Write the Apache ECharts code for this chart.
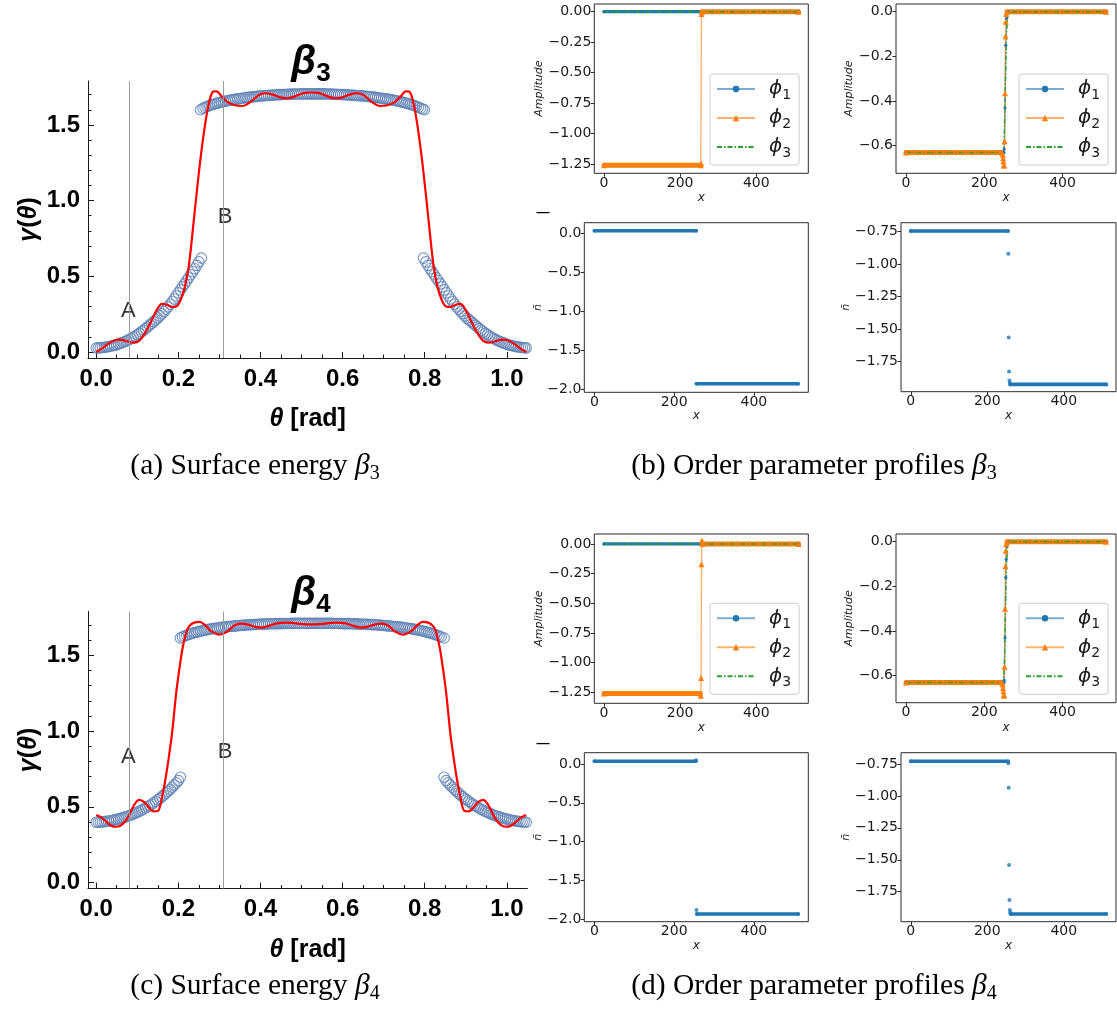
<!DOCTYPE html>
<html><head><meta charset="utf-8">
<script src="https://cdn.jsdelivr.net/npm/echarts@6/dist/echarts.min.js"></script>
<style>html,body{margin:0;padding:0;background:#fff}#c{width:1117px;height:1014px}</style>
</head><body><div id="c"></div>
<script>
// ---------------- tick labels ----------------
const thetaMajor = [0, 0.2, 0.4, 0.6, 0.8, 1.0];
const thetaMinor = [0.05,0.1,0.15,0.25,0.3,0.35,0.45,0.5,0.55,0.65,0.7,0.75,0.85,0.9,0.95];
const gammaMajor = [0, 0.5, 1.0, 1.5];
const gammaMinor = [0.1,0.2,0.3,0.4,0.6,0.7,0.8,0.9,1.1,1.2,1.3,1.4,1.6,1.7];
const xTicksSmall = [0, 200, 400];
const ampTicks2 = [0, -0.25, -0.5, -0.75, -1.0, -1.25];
const ampTicks1 = [0, -0.2, -0.4, -0.6];
const nbarTicksL = [0, -0.5, -1.0, -1.5, -2.0];
const nbarTicksR = [-0.75, -1.0, -1.25, -1.5, -1.75];
const refLines = [0.0785, 0.314];

// ---------------- beta3 : surface energy ----------------
const b3_circLeft = [[0,0.026],[0.005,0.027],[0.01,0.028],[0.015,0.029],[0.02,0.031],[0.025,0.033],[0.03,0.035],[0.035,0.038],[0.04,0.041],[0.045,0.044],[0.05,0.048],[0.055,0.053],[0.06,0.058],[0.065,0.063],[0.07,0.069],[0.075,0.075],[0.08,0.082],[0.085,0.089],[0.09,0.097],[0.095,0.105],[0.10,0.114],[0.105,0.123],[0.11,0.133],[0.115,0.143],[0.12,0.154],[0.125,0.165],[0.13,0.177],[0.135,0.188],[0.14,0.200],[0.145,0.212],[0.15,0.224],[0.155,0.238],[0.16,0.252],[0.165,0.267],[0.17,0.282],[0.175,0.298],[0.18,0.315],[0.185,0.332],[0.19,0.350],[0.195,0.370],[0.20,0.390],[0.205,0.410],[0.21,0.430],[0.215,0.450],[0.22,0.470],[0.225,0.490],[0.23,0.510],[0.235,0.530],[0.24,0.550],[0.245,0.572],[0.25,0.595],[0.256,0.620]];
const b3_circTop = [[0.254,1.600],[0.26,1.610],[0.265,1.616],[0.27,1.622],[0.275,1.627],[0.28,1.632],[0.285,1.636],[0.29,1.640],[0.295,1.644],[0.30,1.647],[0.305,1.651],[0.31,1.654],[0.315,1.657],[0.32,1.660],[0.325,1.663],[0.33,1.665],[0.335,1.668],[0.34,1.670],[0.345,1.672],[0.35,1.674],[0.355,1.676],[0.36,1.678],[0.365,1.680],[0.37,1.682],[0.375,1.684],[0.38,1.685],[0.385,1.687],[0.39,1.688],[0.395,1.690],[0.40,1.691],[0.405,1.692],[0.41,1.693],[0.415,1.694],[0.42,1.695],[0.425,1.696],[0.43,1.697],[0.435,1.698],[0.44,1.699],[0.445,1.700],[0.45,1.700],[0.455,1.701],[0.46,1.701],[0.465,1.702],[0.47,1.702],[0.475,1.703],[0.48,1.703],[0.485,1.704],[0.49,1.704],[0.495,1.704],[0.50,1.705],[0.505,1.705],[0.51,1.705],[0.515,1.705],[0.52,1.705],[0.525,1.705],[0.53,1.705],[0.535,1.705],[0.54,1.705],[0.545,1.705],[0.55,1.705],[0.555,1.705],[0.56,1.704],[0.565,1.704],[0.57,1.703],[0.575,1.703],[0.58,1.702],[0.585,1.702],[0.59,1.701],[0.595,1.701],[0.60,1.700],[0.605,1.700],[0.61,1.699],[0.615,1.698],[0.62,1.697],[0.625,1.696],[0.63,1.695],[0.635,1.694],[0.64,1.693],[0.645,1.692],[0.65,1.691],[0.655,1.690],[0.66,1.688],[0.665,1.687],[0.67,1.685],[0.675,1.684],[0.68,1.682],[0.685,1.680],[0.69,1.678],[0.695,1.676],[0.70,1.674],[0.705,1.672],[0.71,1.670],[0.715,1.668],[0.72,1.665],[0.725,1.663],[0.73,1.660],[0.735,1.657],[0.74,1.654],[0.745,1.651],[0.75,1.647],[0.755,1.644],[0.76,1.640],[0.765,1.636],[0.77,1.632],[0.775,1.627],[0.78,1.622],[0.785,1.616],[0.79,1.610],[0.795,1.605],[0.799,1.600]];
const b3_circRight = [[0.797,0.620],[0.803,0.595],[0.808,0.572],[0.813,0.550],[0.818,0.530],[0.823,0.510],[0.828,0.490],[0.833,0.470],[0.838,0.450],[0.843,0.430],[0.848,0.410],[0.853,0.390],[0.858,0.370],[0.863,0.350],[0.868,0.332],[0.873,0.315],[0.878,0.298],[0.883,0.282],[0.888,0.267],[0.893,0.252],[0.898,0.238],[0.903,0.224],[0.908,0.212],[0.913,0.200],[0.918,0.188],[0.923,0.177],[0.928,0.165],[0.933,0.154],[0.938,0.143],[0.943,0.133],[0.948,0.123],[0.953,0.114],[0.958,0.105],[0.963,0.097],[0.968,0.089],[0.973,0.082],[0.978,0.075],[0.983,0.069],[0.988,0.063],[0.993,0.058],[0.998,0.053],[1.003,0.048],[1.008,0.044],[1.013,0.041],[1.018,0.038],[1.023,0.035],[1.028,0.033],[1.033,0.031],[1.038,0.029],[1.043,0.028],[1.047,0.027]];
const b3_fit = [[0,0],[0.015,0.025],[0.03,0.055],[0.045,0.077],[0.055,0.082],[0.065,0.078],[0.08,0.066],[0.092,0.062],[0.105,0.075],[0.12,0.13],[0.135,0.21],[0.148,0.28],[0.16,0.318],[0.172,0.312],[0.185,0.297],[0.195,0.30],[0.205,0.34],[0.215,0.42],[0.225,0.56],[0.235,0.80],[0.245,1.06],[0.255,1.30],[0.265,1.50],[0.275,1.65],[0.285,1.72],[0.293,1.722],[0.305,1.69],[0.32,1.65],[0.34,1.628],[0.357,1.625],[0.375,1.65],[0.395,1.695],[0.411,1.709],[0.43,1.70],[0.45,1.68],[0.466,1.676],[0.485,1.69],[0.505,1.71],[0.524,1.714],[0.543,1.71],[0.562,1.69],[0.581,1.676],[0.597,1.68],[0.617,1.70],[0.636,1.709],[0.652,1.695],[0.672,1.65],[0.69,1.625],[0.707,1.628],[0.727,1.65],[0.742,1.69],[0.754,1.722],[0.762,1.72],[0.772,1.65],[0.782,1.50],[0.792,1.30],[0.802,1.06],[0.812,0.80],[0.822,0.56],[0.832,0.42],[0.842,0.34],[0.852,0.30],[0.862,0.297],[0.875,0.312],[0.887,0.318],[0.899,0.28],[0.912,0.21],[0.927,0.13],[0.942,0.075],[0.955,0.062],[0.967,0.066],[0.982,0.078],[0.992,0.082],[1.002,0.077],[1.017,0.055],[1.032,0.025],[1.047,0]];
const b3_labels = [[0.0785,0.273,'A'],[0.314,0.894,'B']];

// ---------------- beta4 : surface energy ----------------
const b4_circLeft = [[0,0.398],[0.005,0.398],[0.01,0.399],[0.015,0.400],[0.02,0.402],[0.025,0.404],[0.03,0.406],[0.035,0.408],[0.04,0.411],[0.045,0.414],[0.05,0.417],[0.055,0.420],[0.06,0.424],[0.065,0.428],[0.07,0.432],[0.075,0.436],[0.08,0.441],[0.085,0.446],[0.09,0.452],[0.095,0.458],[0.10,0.464],[0.105,0.470],[0.11,0.477],[0.115,0.484],[0.12,0.492],[0.125,0.500],[0.13,0.508],[0.135,0.517],[0.14,0.526],[0.145,0.536],[0.15,0.546],[0.155,0.556],[0.16,0.567],[0.165,0.578],[0.17,0.590],[0.175,0.602],[0.18,0.615],[0.185,0.629],[0.19,0.643],[0.195,0.658],[0.20,0.673],[0.205,0.695]];
const b4_circTop = [[0.205,1.615],[0.21,1.622],[0.215,1.627],[0.22,1.633],[0.225,1.638],[0.23,1.642],[0.235,1.647],[0.24,1.650],[0.245,1.654],[0.25,1.657],[0.255,1.661],[0.26,1.664],[0.265,1.667],[0.27,1.670],[0.275,1.672],[0.28,1.675],[0.285,1.677],[0.29,1.679],[0.295,1.681],[0.30,1.683],[0.305,1.685],[0.31,1.687],[0.315,1.688],[0.32,1.690],[0.325,1.691],[0.33,1.693],[0.335,1.694],[0.34,1.695],[0.345,1.696],[0.35,1.698],[0.355,1.699],[0.36,1.700],[0.365,1.701],[0.37,1.702],[0.375,1.703],[0.38,1.703],[0.385,1.704],[0.39,1.705],[0.395,1.706],[0.40,1.706],[0.405,1.707],[0.41,1.707],[0.415,1.708],[0.42,1.708],[0.425,1.709],[0.43,1.709],[0.435,1.710],[0.44,1.710],[0.445,1.710],[0.45,1.710],[0.455,1.711],[0.46,1.711],[0.465,1.711],[0.47,1.711],[0.475,1.712],[0.48,1.712],[0.485,1.712],[0.49,1.712],[0.495,1.712],[0.50,1.712],[0.505,1.712],[0.51,1.712],[0.515,1.712],[0.52,1.712],[0.525,1.712],[0.53,1.712],[0.535,1.712],[0.54,1.712],[0.545,1.712],[0.55,1.712],[0.555,1.712],[0.56,1.712],[0.565,1.712],[0.57,1.712],[0.575,1.712],[0.58,1.711],[0.585,1.711],[0.59,1.711],[0.595,1.711],[0.60,1.710],[0.605,1.710],[0.61,1.710],[0.615,1.710],[0.62,1.709],[0.625,1.709],[0.63,1.708],[0.635,1.708],[0.64,1.707],[0.645,1.707],[0.65,1.706],[0.655,1.706],[0.66,1.705],[0.665,1.704],[0.67,1.703],[0.675,1.703],[0.68,1.702],[0.685,1.701],[0.69,1.700],[0.695,1.699],[0.70,1.698],[0.705,1.696],[0.71,1.695],[0.715,1.694],[0.72,1.693],[0.725,1.691],[0.73,1.690],[0.735,1.688],[0.74,1.687],[0.745,1.685],[0.75,1.683],[0.755,1.681],[0.76,1.679],[0.765,1.677],[0.77,1.675],[0.775,1.672],[0.78,1.670],[0.785,1.667],[0.79,1.664],[0.795,1.661],[0.80,1.657],[0.805,1.654],[0.81,1.650],[0.815,1.647],[0.82,1.642],[0.825,1.638],[0.83,1.633],[0.835,1.627],[0.84,1.622],[0.847,1.615]];
const b4_circRight = [[0.847,0.695],[0.852,0.673],[0.857,0.658],[0.862,0.643],[0.867,0.629],[0.872,0.615],[0.877,0.602],[0.882,0.590],[0.887,0.578],[0.892,0.567],[0.897,0.556],[0.902,0.546],[0.907,0.536],[0.912,0.526],[0.917,0.517],[0.922,0.508],[0.927,0.500],[0.932,0.492],[0.937,0.484],[0.942,0.477],[0.947,0.470],[0.952,0.464],[0.957,0.458],[0.962,0.452],[0.967,0.446],[0.972,0.441],[0.977,0.436],[0.982,0.432],[0.987,0.428],[0.992,0.424],[0.997,0.420],[1.002,0.417],[1.007,0.414],[1.012,0.411],[1.017,0.408],[1.022,0.406],[1.027,0.404],[1.032,0.402],[1.037,0.400],[1.042,0.399],[1.047,0.398]];
const b4_fit = [[0,0.446],[0.012,0.43],[0.025,0.40],[0.037,0.375],[0.049,0.368],[0.062,0.38],[0.077,0.43],[0.092,0.51],[0.105,0.545],[0.117,0.53],[0.13,0.49],[0.14,0.47],[0.15,0.472],[0.16,0.56],[0.17,0.706],[0.178,0.85],[0.185,0.993],[0.195,1.257],[0.203,1.42],[0.21,1.544],[0.218,1.64],[0.225,1.688],[0.24,1.718],[0.252,1.721],[0.265,1.70],[0.28,1.66],[0.30,1.637],[0.318,1.655],[0.335,1.695],[0.352,1.71],[0.37,1.703],[0.388,1.688],[0.403,1.683],[0.42,1.695],[0.44,1.712],[0.466,1.716],[0.49,1.71],[0.524,1.705],[0.557,1.71],[0.581,1.716],[0.607,1.712],[0.627,1.695],[0.644,1.683],[0.659,1.688],[0.677,1.703],[0.695,1.71],[0.712,1.695],[0.729,1.655],[0.747,1.637],[0.767,1.66],[0.782,1.70],[0.795,1.721],[0.807,1.718],[0.822,1.688],[0.829,1.64],[0.837,1.544],[0.844,1.42],[0.852,1.257],[0.862,0.993],[0.869,0.85],[0.877,0.706],[0.887,0.56],[0.897,0.472],[0.907,0.47],[0.917,0.49],[0.93,0.53],[0.942,0.545],[0.955,0.51],[0.97,0.43],[0.985,0.38],[0.998,0.368],[1.01,0.375],[1.022,0.40],[1.035,0.43],[1.047,0.446]];
const b4_labels = [[0.0785,0.828,'A'],[0.314,0.861,'B']];

// ---------------- order parameter profiles (breakpoints) ----------------
const b3L_phi1 = [[0,0],[511,0]];
const b3L_phi2 = [[0,-1.26],[254,-1.26],[255,-1.245],[256,-0.02],[257,0],[511,0]];
const b3L_phi3 = [[0,0],[511,0]];
const b3R_phi1 = [[0,-0.63],[250,-0.63],[251,-0.615],[253,-0.43],[255,-0.15],[257,-0.03],[259,0],[511,0]];
const b3R_phi2 = [[0,-0.63],[245,-0.63],[247,-0.64],[248,-0.655],[249,-0.67],[250,-0.685],[251,-0.69],[252,-0.58],[253,-0.365],[254,-0.11],[255,-0.045],[256,-0.01],[258,0],[511,0]];
const b3R_phi3 = [[0,-0.63],[248,-0.63],[251,-0.57],[254,-0.33],[257,-0.1],[260,-0.015],[262,0],[511,0]];
const b3L_nbar = [[0,0.033],[255,0.033],[256,-1.928],[511,-1.928]];
const b3R_nbar = [[0,-0.745],[254,-0.745],[255,-0.92],[256,-1.565],[257,-1.825],[258,-1.895],[259,-1.915],[260,-1.925],[511,-1.925]];

const b4L_phi1 = [[0,0],[511,0]];
const b4L_phi2 = [[0,-1.26],[253,-1.26],[254,-1.28],[255,-1.13],[256,-0.17],[257,0.03],[258,0],[511,0]];
const b4L_phi3 = [[0,0],[511,0]];
const b4R_phi1 = [[0,-0.63],[250,-0.63],[251,-0.62],[253,-0.43],[255,-0.16],[256,-0.08],[257,-0.02],[259,0],[511,0]];
const b4R_phi2 = [[0,-0.63],[245,-0.63],[247,-0.64],[248,-0.655],[249,-0.67],[250,-0.685],[251,-0.69],[252,-0.56],[253,-0.30],[254,-0.11],[255,-0.04],[256,-0.01],[258,0],[511,0]];
const b4R_phi3 = [[0,-0.63],[248,-0.63],[251,-0.57],[254,-0.33],[257,-0.1],[260,-0.015],[262,0],[511,0]];
const b4L_nbar = [[0,0.035],[254,0.035],[255,0.05],[256,-1.885],[257,-1.935],[511,-1.935]];
const b4R_nbar = [[0,-0.728],[254,-0.728],[255,-0.745],[256,-0.936],[257,-1.541],[258,-1.815],[259,-1.893],[260,-1.912],[261,-1.925],[511,-1.925]];

// ---------------- build ----------------
const grids = [], xAxes = [], yAxes = [], series = [], legends = [], graphics = [];
const MMA_BLUE = '#5E81B5';
const SANS = 'Liberation Sans';
const MPL = 'DejaVu Sans';

function addMma(top, circ, fit, labels) {
  const g = grids.length;
  grids.push({left: 88, top: top, width: 439.4, height: 277});
  const xi = xAxes.length, yi = yAxes.length;
  const lineCol = '#1a1a1a';
  xAxes.push({type: 'value', gridIndex: g, min: -0.02, max: 1.05, position: 'bottom',
    axisLine: {onZero: false, lineStyle: {color: lineCol, width: 1}},
    axisTick: {inside: true, length: 6, customValues: thetaMajor, lineStyle: {color: lineCol, width: 1}},
    axisLabel: {customValues: thetaMajor, formatter: v => v.toFixed(1), fontFamily: SANS, fontWeight: 'bold', fontSize: 24, color: '#000', margin: 9},
    splitLine: {show: false},
    name: '{t|θ} [rad]', nameLocation: 'middle', nameGap: 49,
    nameTextStyle: {fontFamily: SANS, fontWeight: 'bold', fontSize: 25, color: '#000',
      rich: {t: {fontFamily: SANS, fontWeight: 'bold', fontStyle: 'italic', fontSize: 25, color: '#000'}}}
  });
  xAxes.push({type: 'value', gridIndex: g, min: -0.02, max: 1.05, position: 'bottom',
    axisLine: {show: false, onZero: false},
    axisTick: {inside: true, length: 3.5, customValues: thetaMinor, lineStyle: {color: lineCol, width: 1}},
    axisLabel: {show: false}, splitLine: {show: false}});
  yAxes.push({type: 'value', gridIndex: g, min: -0.04, max: 1.79, position: 'left',
    axisLine: {show: true, onZero: false, lineStyle: {color: lineCol, width: 1}},
    axisTick: {show: true, inside: true, length: 6, customValues: gammaMajor, lineStyle: {color: lineCol, width: 1}},
    axisLabel: {customValues: gammaMajor, formatter: v => v.toFixed(1), fontFamily: SANS, fontWeight: 'bold', fontSize: 24, color: '#000', margin: 8},
    splitLine: {show: false},
    name: '{i|γ}({i|θ})', nameLocation: 'middle', nameGap: 46, nameRotate: 90,
    nameTextStyle: {fontFamily: SANS, fontWeight: 'bold', fontSize: 25, color: '#000',
      rich: {i: {fontFamily: SANS, fontWeight: 'bold', fontStyle: 'italic', fontSize: 25, color: '#000'}}}
  });
  yAxes.push({type: 'value', gridIndex: g, min: -0.04, max: 1.79, position: 'left',
    axisLine: {show: false, onZero: false},
    axisTick: {show: true, inside: true, length: 3.5, customValues: gammaMinor, lineStyle: {color: lineCol, width: 1}},
    axisLabel: {show: false}, splitLine: {show: false}});
  series.push({type: 'line', xAxisIndex: xi, yAxisIndex: yi, data: [], silent: true,
    markLine: {symbol: 'none', silent: true, animation: false, label: {show: false},
      lineStyle: {color: '#9a9a9a', width: 1, type: 'solid'},
      emphasis: {disabled: true},
      data: refLines.map(v => ({xAxis: v}))}});
  circ.forEach(arr => series.push({type: 'scatter', xAxisIndex: xi, yAxisIndex: yi, data: arr, silent: true,
    symbol: 'circle', symbolSize: 10.5,
    itemStyle: {color: 'rgba(0,0,0,0)', borderColor: MMA_BLUE, borderWidth: 1.1, opacity: 0.85}}));
  series.push({type: 'line', xAxisIndex: xi, yAxisIndex: yi, data: fit, smooth: 0.35, showSymbol: false, silent: true,
    lineStyle: {color: '#ff0000', width: 2.2}});
  series.push({type: 'scatter', xAxisIndex: xi, yAxisIndex: yi, data: labels, symbolSize: 1, silent: true,
    itemStyle: {color: 'rgba(0,0,0,0)'},
    label: {show: true, position: 'inside', formatter: p => p.value[2], fontFamily: SANS, fontSize: 22, color: '#000'}});
}

function plateau(pts) {
  const out = [];
  for (let i = 0; i < pts.length - 1; i++) {
    if (pts[i][1] === pts[i + 1][1] && pts[i + 1][0] - pts[i][0] >= 5) {
      out.push(pts[i], pts[i + 1], [pts[i + 1][0], '-']);
    }
  }
  return out;
}

const STY = {
  phi1: {color: '#1f77b4', symbol: 'circle', size: 3.2, band: 3.2},
  phi2: {color: '#ff7f0e', symbol: 'triangle', size: 6, band: 5},
  phi3: {color: '#2ca02c', symbol: 'none', size: 0, band: 0},
  nbar: {color: '#1f77b4', symbol: 'circle', size: 4, band: 3.6}
};

function addSmall(box, yMin, yMax, yTicks, dec, yName, yGap, xGap, defs, legendPos) {
  const g = grids.length;
  grids.push(Object.assign({show: true, borderColor: '#2b2b2b', borderWidth: 1, backgroundColor: 'rgba(0,0,0,0)'}, box));
  const xi = xAxes.length, yi = yAxes.length;
  const fmt = v => (Math.abs(v) < 1e-9 ? 0 : v).toFixed(dec).replace('-', '\u2212');
  xAxes.push({type: 'value', gridIndex: g, min: -25.55, max: 536.55, position: 'bottom',
    axisLine: {show: false, onZero: false},
    axisTick: {show: true, length: 3.5, customValues: xTicksSmall, lineStyle: {color: '#2b2b2b', width: 1}},
    axisLabel: {customValues: xTicksSmall, fontFamily: MPL, fontSize: 14, color: '#1a1a1a', margin: 3},
    splitLine: {show: false},
    name: 'x', nameLocation: 'middle', nameGap: xGap,
    nameTextStyle: {fontFamily: MPL, fontStyle: 'italic', fontSize: 12, color: '#1a1a1a'}});
  yAxes.push({type: 'value', gridIndex: g, min: yMin, max: yMax, position: 'left',
    axisLine: {show: false, onZero: false},
    axisTick: {show: true, length: 3.5, customValues: yTicks, lineStyle: {color: '#2b2b2b', width: 1}},
    axisLabel: {customValues: yTicks, formatter: fmt, fontFamily: MPL, fontSize: 14, color: '#1a1a1a', margin: 3},
    splitLine: {show: false},
    name: yName, nameLocation: 'middle', nameGap: yGap, nameRotate: 90,
    nameTextStyle: {fontFamily: MPL, fontStyle: 'italic', fontSize: 11, color: '#1a1a1a'}});
  defs.forEach(d => {
    const s = STY[d.kind];
    if (s.band > 0) {
      series.push({type: 'line', name: '_band', xAxisIndex: xi, yAxisIndex: yi, data: plateau(d.pts),
        showSymbol: false, silent: true, connectNulls: false,
        lineStyle: {color: s.color, width: s.band, cap: 'round'}});
    }
    if (d.kind === 'nbar') {
      series.push({type: 'scatter', name: '_n', xAxisIndex: xi, yAxisIndex: yi, data: d.pts, silent: true,
        symbol: 'circle', symbolSize: s.size, itemStyle: {color: s.color}});
    } else {
      series.push({type: 'line', name: d.name, xAxisIndex: xi, yAxisIndex: yi, data: d.pts, silent: true,
        showSymbol: s.symbol !== 'none', showAllSymbol: true, symbol: s.symbol, symbolSize: s.size,
        itemStyle: {color: s.color},
        lineStyle: {color: s.color, width: 1.4, opacity: d.kind === 'phi3' ? 1 : 0.6,
          type: d.kind === 'phi3' ? [5, 2, 1.5, 2] : 'solid'}});
    }
  });
  if (legendPos) {
    legends.push({data: ['ϕ1', 'ϕ2', {name: 'ϕ3', itemStyle: {color: 'rgba(0,0,0,0)', borderWidth: 0, opacity: 0}}],
      orient: 'vertical', left: legendPos[0], top: legendPos[1],
      selectedMode: false, itemWidth: 38, itemHeight: 8, itemGap: 6, padding: [5, 8, 5, 6],
      borderColor: '#cccccc', borderWidth: 1, borderRadius: 3, backgroundColor: 'rgba(255,255,255,0.85)',
      formatter: n => '{p|ϕ}{s|' + n.slice(1) + '}',
      textStyle: {rich: {
        p: {fontFamily: MPL, fontStyle: 'italic', fontSize: 20, lineHeight: 26, color: '#1a1a1a', padding: [0, 0, 0, 9]},
        s: {fontFamily: MPL, fontSize: 14, lineHeight: 14, color: '#1a1a1a', verticalAlign: 'bottom'}}}});
  }
}

addMma(81, [b3_circLeft, b3_circTop, b3_circRight], b3_fit, b3_labels);
addMma(611.5, [b4_circLeft, b4_circTop, b4_circRight], b4_fit, b4_labels);

addSmall({left: 594.3, top: 4, width: 214, height: 169.3}, -1.326, 0.063, ampTicks2, 2, 'Amplitude', 48, 19,
  [{name: 'ϕ1', kind: 'phi1', pts: b3L_phi1}, {name: 'ϕ2', kind: 'phi2', pts: b3L_phi2}, {name: 'ϕ3', kind: 'phi3', pts: b3L_phi3}], [710, 74]);
addSmall({left: 896, top: 4, width: 220, height: 169.3}, -0.7236, 0.0345, ampTicks1, 1, 'Amplitude', 38, 19,
  [{name: 'ϕ1', kind: 'phi1', pts: b3R_phi1}, {name: 'ϕ2', kind: 'phi2', pts: b3R_phi2}, {name: 'ϕ3', kind: 'phi3', pts: b3R_phi3}], [1019, 74]);
addSmall({left: 584.3, top: 222.7, width: 224, height: 169.6}, -2.038, 0.136, nbarTicksL, 1, 'n̄', 38, 16,
  [{name: 'n', kind: 'nbar', pts: b3L_nbar}], null);
addSmall({left: 901, top: 222.7, width: 215, height: 169}, -1.981, -0.681, nbarTicksR, 2, 'n̄', 46, 16,
  [{name: 'n', kind: 'nbar', pts: b3R_nbar}], null);
addSmall({left: 594.3, top: 534, width: 214, height: 169.3}, -1.343, 0.084, ampTicks2, 2, 'Amplitude', 48, 19,
  [{name: 'ϕ1', kind: 'phi1', pts: b4L_phi1}, {name: 'ϕ2', kind: 'phi2', pts: b4L_phi2}, {name: 'ϕ3', kind: 'phi3', pts: b4L_phi3}], [710, 603.3]);
addSmall({left: 896, top: 534, width: 220, height: 168.7}, -0.721, 0.0345, ampTicks1, 1, 'Amplitude', 38, 19,
  [{name: 'ϕ1', kind: 'phi1', pts: b4R_phi1}, {name: 'ϕ2', kind: 'phi2', pts: b4R_phi2}, {name: 'ϕ3', kind: 'phi3', pts: b4R_phi3}], [1019, 603.3]);
addSmall({left: 584.3, top: 752.7, width: 224, height: 169}, -2.035, 0.146, nbarTicksL, 1, 'n̄', 38, 16,
  [{name: 'n', kind: 'nbar', pts: b4L_nbar}], null);
addSmall({left: 901, top: 752.7, width: 215, height: 169}, -1.985, -0.6615, nbarTicksR, 2, 'n̄', 46, 16,
  [{name: 'n', kind: 'nbar', pts: b4R_nbar}], null);

const titleRich = {b: {fontFamily: SANS, fontWeight: 'bold', fontStyle: 'italic', fontSize: 40, lineHeight: 48, color: '#000'},
                   s: {fontFamily: SANS, fontWeight: 'bold', fontSize: 26, lineHeight: 26, color: '#000', verticalAlign: 'bottom'}};
graphics.push({type: 'text', x: 311, y: 63, style: {text: '{b|β}{s|3}', rich: titleRich, align: 'center', verticalAlign: 'middle'}});
graphics.push({type: 'text', x: 311, y: 594, style: {text: '{b|β}{s|4}', rich: titleRich, align: 'center', verticalAlign: 'middle'}});
const capRich = {n: {fontFamily: 'Liberation Serif', fontSize: 29.5, lineHeight: 36, color: '#111'},
                 b: {fontFamily: 'Liberation Serif', fontStyle: 'italic', fontSize: 29.5, lineHeight: 36, color: '#111'},
                 s: {fontFamily: 'Liberation Serif', fontSize: 20, lineHeight: 20, color: '#111', verticalAlign: 'bottom'}};
[['(a) Surface energy ', '3', 255, 466], ['(b) Order parameter profiles ', '3', 814, 466],
 ['(c) Surface energy ', '4', 255, 986], ['(d) Order parameter profiles ', '4', 814, 986]].forEach(c => {
  graphics.push({type: 'text', x: c[2], y: c[3], style: {text: '{n|' + c[0] + '}{b|β}{s|' + c[1] + '}', rich: capRich, align: 'center', verticalAlign: 'middle'}});
});
graphics.push({type: 'text', x: 543, y: 212, style: {text: '—', fontSize: 13, fontWeight: 'bold', fill: '#000', align: 'center', verticalAlign: 'middle'}});
graphics.push({type: 'text', x: 543, y: 743, style: {text: '—', fontSize: 13, fontWeight: 'bold', fill: '#000', align: 'center', verticalAlign: 'middle'}});

const chart = echarts.init(document.getElementById('c'), null, {renderer: 'canvas'});
chart.setOption({
  animation: false,
  backgroundColor: '#ffffff',
  grid: grids, xAxis: xAxes, yAxis: yAxes, series: series, legend: legends, graphic: graphics
});
</script></body></html>
